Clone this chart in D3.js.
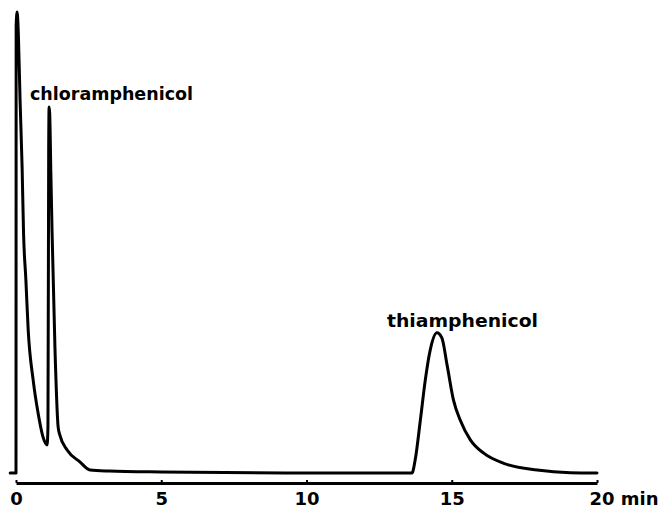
<!DOCTYPE html>
<html>
<head>
<meta charset="utf-8">
<script src="https://cdn.jsdelivr.net/npm/d3@7"></script>
<style>
  body { margin: 0; background: #fff; }
  svg { display: block; }
</style>
</head>
<body>
<svg width="658" height="510"></svg>
<script>
// retention time (min) and detector signal (arbitrary units, 0 = baseline)
const times = [
  -0.2, 0.0, 0.005, 0.04, 0.08, 0.14, 0.21, 0.26, 0.34, 0.42, 0.59, 0.76, 0.93, 1.07,
  1.10, 1.125, 1.14, 1.16, 1.20, 1.24, 1.34, 1.45, 1.51, 1.76, 2.2, 2.55, 3.2, 5.0, 10.0,
  13.63, 13.74, 13.92, 14.09, 14.26, 14.49, 14.66, 14.84, 15.06, 15.29, 15.64,
  16.10, 16.79, 17.94, 19.08, 20.0
];
const signal = [
  0, 0, 97, 100, 95.4, 80.9, 66.4, 52, 41.9, 31, 20.2, 13, 7.8, 6.1,
  10, 70, 79.4, 78, 65, 52.7, 27.3, 10, 8.2, 5, 2.4, 0.65, 0.43, 0.22, 0,
  0, 2.8, 11.5, 20.2, 26.7, 30.4, 29.3, 23.4, 15.8, 11.5, 7.2,
  4.3, 2.1, 0.65, 0.07, 0
];
const tickValues = [0, 5, 10, 15, 20];
const peakNames = ["chloramphenicol", "thiamphenicol"];

const svg = d3.select("svg");
const font = "'DejaVu Sans', sans-serif";

const x = d3.scaleLinear().domain([0, 20]).range([16, 597]);
const y = d3.scaleLinear().domain([0, 100]).range([473, 12]);

const points = times.map((t, i) => [t, signal[i]]);

// trace
svg.append("path")
  .datum(points)
  .attr("fill", "none")
  .attr("stroke", "#000")
  .attr("stroke-width", 3)
  .attr("stroke-linejoin", "round")
  .attr("stroke-linecap", "round")
  .attr("d", d3.line()
    .x(d => x(d[0]))
    .y(d => y(d[1]))
    .curve(d3.curveMonotoneX));

// time axis
const axis = svg.append("g")
  .attr("transform", "translate(0,483)")
  .call(d3.axisBottom(x)
    .tickValues(tickValues)
    .tickSizeInner(-3)
    .tickSizeOuter(0)
    .tickFormat(d => d));

axis.select(".domain").attr("stroke", "#000").attr("stroke-width", 3);
axis.selectAll(".tick line").attr("stroke", "#000").attr("stroke-width", 2);
axis.selectAll(".tick text")
  .attr("y", 22)
  .attr("dy", 0)
  .attr("fill", "#000")
  .style("font-family", font)
  .style("font-weight", "bold")
  .style("font-size", "18px");

// last tick reads "20 min"
axis.selectAll(".tick text")
  .filter(d => d === 20)
  .attr("text-anchor", "start")
  .attr("x", -8)
  .text("20 min");

// peak labels
const labelPos = [[30, 100, 163], [387, 327, 151]];
svg.selectAll("text.peak")
  .data(peakNames)
  .enter()
  .append("text")
  .attr("class", "peak")
  .attr("x", (d, i) => labelPos[i][0])
  .attr("y", (d, i) => labelPos[i][1])
  .attr("textLength", (d, i) => labelPos[i][2])
  .attr("lengthAdjust", "spacingAndGlyphs")
  .style("font-family", font)
  .style("font-weight", "bold")
  .style("font-size", "18px")
  .text(d => d);
</script>
</body>
</html>
